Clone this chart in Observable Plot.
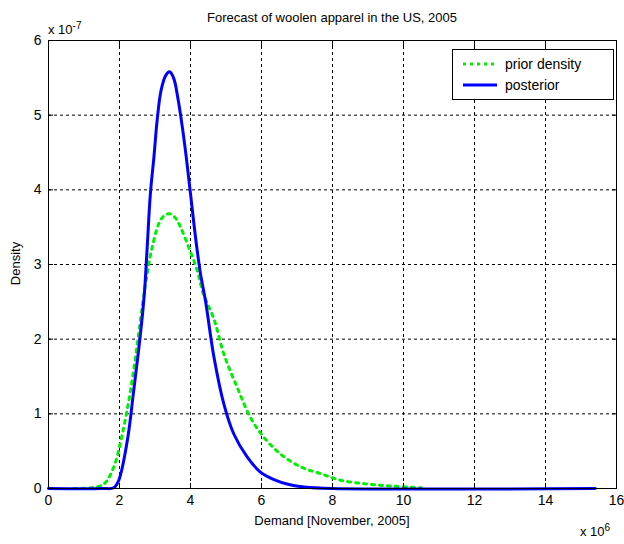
<!DOCTYPE html>
<html>
<head>
<meta charset="utf-8">
<script src="https://cdn.jsdelivr.net/npm/d3@7"></script>
<script src="https://cdn.jsdelivr.net/npm/@observablehq/plot@0.6"></script>
<style>
  body { margin: 0; background: #fff; font-family: "Liberation Sans", Arial, sans-serif; }
  #wrap { position: relative; width: 624px; height: 544px; }
  #wrap > svg { position: absolute; left: 0; top: 0; }
  .lbl { position: absolute; font-size: 13px; color: #000; white-space: nowrap; }
  .lbl sup { font-size: 10px; }
  #legend { position: absolute; left: 452px; top: 49px; width: 160px; height: 49px;
            border: 1px solid #000; background: #fff; font-size: 14px; }
  #legend .row { position: absolute; left: 8px; height: 20px; display: flex; align-items: center; }
  #legend .row svg { display: block; }
  #legend span { margin-left: 8px; }
</style>
</head>
<body>
<div id="wrap"></div>
<script>
// demanda en millones (x 10^6), densidad en x 10^-7
const priorX = [0.71, 1.2, 1.56, 1.84, 2.08, 2.31, 2.54, 2.66, 2.78, 2.92, 3.11, 3.25, 3.42, 3.58, 3.72, 3.95, 4.19, 4.36, 4.66, 4.94, 5.31, 5.69, 6.06, 6.54, 7.1, 7.66, 8.23, 8.98, 9.73, 10.5]
const priorY = [0, 0.01, 0.06, 0.29, 0.73, 1.31, 2.07, 2.5, 2.88, 3.23, 3.55, 3.65, 3.68, 3.62, 3.5, 3.23, 2.92, 2.61, 2.27, 1.8, 1.36, 0.95, 0.69, 0.46, 0.29, 0.2, 0.11, 0.06, 0.03, 0.01]

const postX = [0, 1.5, 1.84, 1.98, 2.22, 2.4, 2.59, 2.7, 2.78, 2.87, 2.97, 3.06, 3.17, 3.3, 3.41, 3.53, 3.64, 3.77, 3.88, 4.0, 4.14, 4.28, 4.42, 4.66, 4.94, 5.22, 5.6, 5.97, 6.35, 6.8, 7.2, 8, 15.4]
const postY = [0, 0, 0.01, 0.11, 0.64, 1.31, 2.07, 2.61, 3.23, 3.95, 4.44, 4.93, 5.33, 5.53, 5.58, 5.49, 5.24, 4.84, 4.44, 3.95, 3.37, 2.88, 2.52, 1.76, 1.13, 0.73, 0.42, 0.22, 0.12, 0.05, 0.02, 0, 0]

const xTicks = [0, 2, 4, 6, 8, 10, 12, 14, 16]
const yTicks = [0, 1, 2, 3, 4, 5, 6]

const prior = priorX.map((x, i) => ({x, y: priorY[i]}))
const post = postX.map((x, i) => ({x, y: postY[i]}))

let chart = Plot.plot({
  width: 624,
  height: 544,
  marginLeft: 48,
  marginRight: 8,
  marginTop: 40,
  marginBottom: 56,
  style: {fontFamily: "Liberation Sans, Arial, sans-serif", fontSize: "14px", background: "#fff"},
  x: {domain: [0, 16], ticks: xTicks, label: null},
  y: {domain: [0, 6], ticks: yTicks, label: null},
  marks: [
    Plot.gridX(xTicks.slice(1, -1), {stroke: "#000", strokeOpacity: 1, strokeDasharray: "3,3"}),
    Plot.gridY(yTicks.slice(1, -1), {stroke: "#000", strokeOpacity: 1, strokeDasharray: "3,3"}),
    Plot.line(prior, {x: "x", y: "y", stroke: "#00ee00", strokeWidth: 3, strokeDasharray: "3,5", curve: "catmull-rom"}),
    Plot.line(post, {x: "x", y: "y", stroke: "#0000ff", strokeWidth: 3, curve: "catmull-rom"}),
    Plot.frame({stroke: "#000"}),
    Plot.axisX(xTicks, {tickSize: -5, tickPadding: 12, fontSize: 14, label: null, tickFormat: d => d}),
    Plot.axisX(xTicks, {anchor: "top", tickSize: -5, tickFormat: () => "", label: null}),
    Plot.axisY(yTicks, {tickSize: -5, tickPadding: 12, fontSize: 14, label: null, tickFormat: d => d}),
    Plot.axisY(yTicks, {anchor: "right", tickSize: -5, tickFormat: () => "", label: null}),
  ]
})

const wrap = d3.select('#wrap')
wrap.append(() => chart)

wrap.append('div').attr('class', 'lbl').style('left', '0').style('width', '664px').style('text-align', 'center')
  .style('top', '10px').text('Forecast of woolen apparel in the US, 2005')
wrap.append('div').attr('class', 'lbl').style('left', '48px').style('top', '20px').html('x 10<sup>-7</sup>')
wrap.append('div').attr('class', 'lbl').style('left', '580px').style('top', '522px').html('x 10<sup>6</sup>')
wrap.append('div').attr('class', 'lbl').style('left', '0').style('width', '664px').style('text-align', 'center')
  .style('top', '513px').text('Demand [November, 2005]')
wrap.append('div').attr('class', 'lbl').style('left', '-6px').style('top', '256px')
  .style('transform', 'rotate(-90deg)').text('Density')

const legend = wrap.append('div').attr('id', 'legend')
legend.append('div').attr('class', 'row').style('top', '4px').html('<svg width="36" height="6"><line x1="2" y1="3" x2="36" y2="3" stroke="#00ee00" stroke-width="3" stroke-dasharray="3,4"/></svg><span>prior density</span>')
legend.append('div').attr('class', 'row').style('top', '25px').html('<svg width="36" height="6"><line x1="2" y1="3" x2="36" y2="3" stroke="#0000ff" stroke-width="3"/></svg><span>posterior</span>')
</script>
</body>
</html>
